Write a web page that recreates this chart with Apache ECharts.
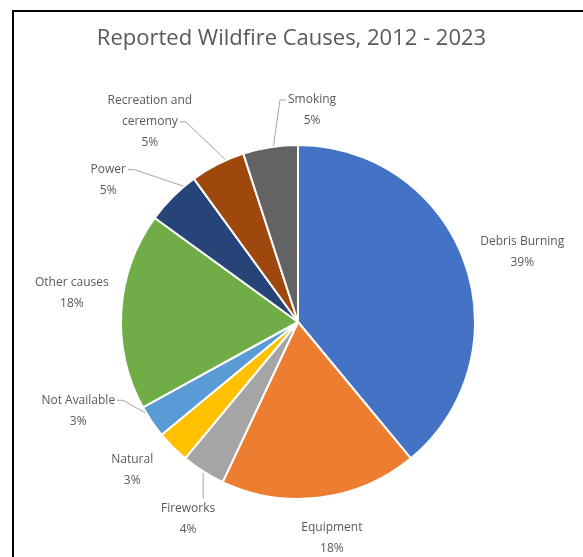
<!DOCTYPE html>
<html>
<head>
<meta charset="utf-8">
<script src="https://cdn.jsdelivr.net/npm/echarts@6/dist/echarts.min.js"></script>
<style>
  html, body { margin: 0; padding: 0; background: #ffffff; }
  #chart { width: 583px; height: 557px; }
</style>
</head>
<body>
<div id="chart"></div>
<script>
// Wildfire causes, share of reported fires (%)
const causes = [
  'Debris Burning', 'Equipment', 'Fireworks', 'Natural', 'Not Available',
  'Other causes', 'Power', 'Recreation and\nceremony', 'Smoking'
];
const shares = [39, 18, 4, 3, 3, 18, 5, 5, 5];
const sliceColors = [
  '#4472C4', '#ED7D31', '#A5A5A5', '#FFC000', '#5B9BD5',
  '#70AD47', '#264478', '#9E480E', '#636363'
];
const hasLeader = [false, false, true, false, true, false, true, true, true];

// Label placement around the pie: [angle shift from slice middle (deg),
// distance of label centre from pie centre (px), leader start shift (deg)]
const labelPlacement = [
  [2.4, 235, 0], [-1.7, 219, 0], [-3.3, 226, 0], [3.3, 222, 0], [12.2, 237, 3],
  [3.7, 228, 0], [-8.2, 237, 5], [-9.5, 249, 3], [12.8, 212, 1]
];

const PIE_CX = 298, PIE_CY = 322, PIE_R = 177;
const LABEL_FONT = 12, LABEL_LINE_H = 21, LABEL_FAMILY = 'Open Sans';

const total = shares.reduce((a, b) => a + b, 0);
const midAngles = [];
{
  let acc = 0;
  shares.forEach(v => { midAngles.push((acc + v / 2) / total * 360); acc += v; });
}
const polar = (deg, r) => {
  const a = deg * Math.PI / 180;
  return [PIE_CX + r * Math.sin(a), PIE_CY - r * Math.cos(a)];
};

const measureCtx = document.createElement('canvas').getContext('2d');
measureCtx.font = LABEL_FONT + 'px "' + LABEL_FAMILY + '"';

const chart = echarts.init(document.getElementById('chart'), null, { renderer: 'canvas' });

chart.setOption({
  animation: false,
  backgroundColor: '#ffffff',
  title: {
    text: 'Reported Wildfire Causes, 2012 - 2023',
    left: 'center',
    top: 23,
    textStyle: { color: '#595959', fontSize: 22, fontWeight: 'normal', fontFamily: 'Open Sans' }
  },
  graphic: [{
    type: 'polyline',
    shape: { points: [[13, 560], [13, 11], [590, 11]] },
    style: { stroke: '#000000', lineWidth: 2, fill: null }
  }],
  series: [{
    type: 'pie',
    center: [PIE_CX, PIE_CY],
    radius: PIE_R,
    startAngle: 90,
    clockwise: true,
    percentPrecision: 0,
    avoidLabelOverlap: false,
    itemStyle: { borderColor: '#ffffff', borderWidth: 2 },
    emphasis: { disabled: true },
    label: {
      show: true,
      position: 'outside',
      formatter: '{b}\n{d}%',
      color: '#595959',
      fontSize: LABEL_FONT,
      fontFamily: LABEL_FAMILY,
      lineHeight: LABEL_LINE_H,
      align: 'center'
    },
    labelLine: { show: true, lineStyle: { color: '#a6a6a6', width: 1 } },
    labelLayout: function (p) {
      const i = p.dataIndex;
      const [shift, dist, lineShift] = labelPlacement[i];
      const [lx, ly] = polar(midAngles[i] + shift, dist);
      const w = p.labelRect.width, h = p.labelRect.height;
      const out = { x: lx, y: ly, align: 'center', verticalAlign: 'middle' };
      if (hasLeader[i]) {
        const start = polar(midAngles[i] + lineShift, PIE_R);
        const nameLines = causes[i].split('\n');
        const lastW = measureCtx.measureText(nameLines[nameLines.length - 1]).width;
        const joinY = ly + h / 2 - LABEL_LINE_H * 1.5;
        if (start[0] > lx - w / 2 && start[0] < lx + w / 2) {
          const edgeY = start[1] < ly ? ly - h / 2 : ly + h / 2 - 3;
          out.labelLinePoints = [start, [start[0], (start[1] + edgeY) / 2], [start[0], edgeY]];
        } else if (start[0] >= lx + w / 2) {
          const ex = lx + lastW / 2 + 2;
          out.labelLinePoints = [start, [ex + 6, joinY], [ex, joinY]];
        } else {
          const ex = lx - lastW / 2 - 2;
          out.labelLinePoints = [start, [ex - 6, joinY], [ex, joinY]];
        }
      }
      return out;
    },
    data: causes.map((name, i) => ({
      name: name,
      value: shares[i],
      itemStyle: { color: sliceColors[i] },
      labelLine: { show: hasLeader[i] }
    }))
  }]
});
</script>
</body>
</html>
